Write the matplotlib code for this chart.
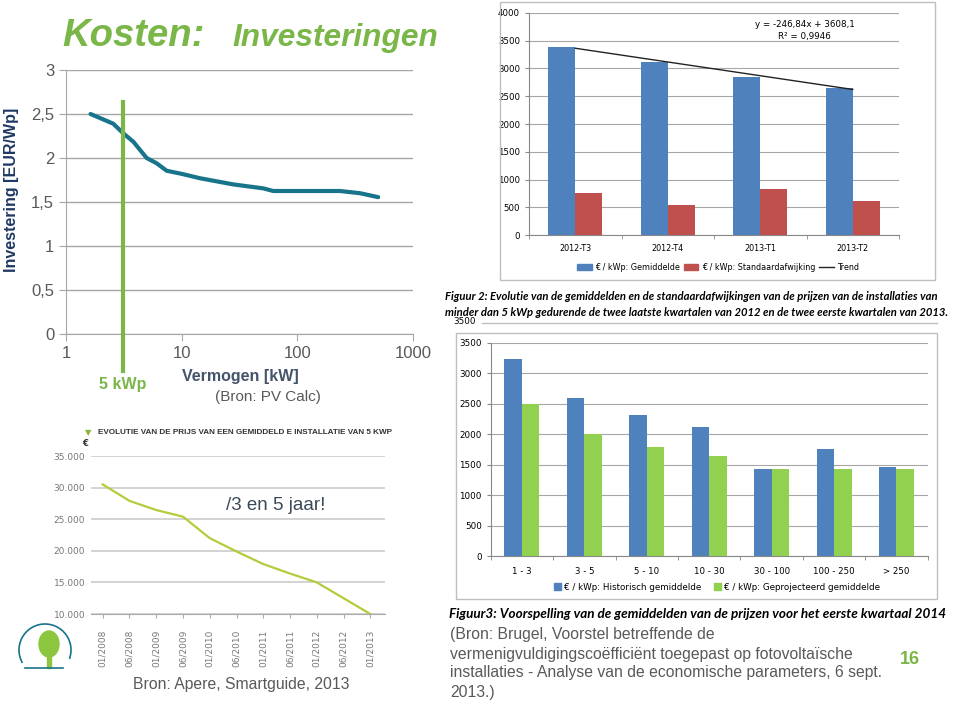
import numpy as np
import matplotlib
matplotlib.use("Agg")
import matplotlib.pyplot as plt
import matplotlib.transforms as mtransforms
from matplotlib.patches import Rectangle, Arc, Ellipse

W, H = 960, 703

# --- chart 1: investering vs vermogen (PV Calc) ---
pv_kw = [1.63, 2.56, 3.13, 3.82, 4.98, 6.08, 7.42, 10, 14.4, 27.9, 50.7, 61.9, 233, 348, 500]
pv_eur_wp = [2.50, 2.39, 2.28, 2.185, 2.00, 1.94, 1.855, 1.82, 1.77, 1.70, 1.655, 1.625, 1.625, 1.60, 1.555]
marker_kw = 3.1
y1_ticks = [0, 0.5, 1, 1.5, 2, 2.5, 3]
y1_labels = ["0", "0,5", "1", "1,5", "2", "2,5", "3"]

# --- chart 2: kwartalen ---
quarters = ["2012-T3", "2012-T4", "2013-T1", "2013-T2"]
q_mean = [3385, 3110, 2840, 2640]
q_std = [760, 545, 830, 620]
trend_slope, trend_icpt = -246.84, 3608.1

# --- chart 3: vermogensklassen ---
classes = ["1 - 3", "3 - 5", "5 - 10", "10 - 30", "30 - 100", "100 - 250", "> 250"]
hist_mean = [3240, 2600, 2310, 2120, 1430, 1750, 1460]
proj_mean = [2500, 2000, 1790, 1640, 1430, 1430, 1430]

# --- chart 4: prijs 5 kWp installatie ---
months = ["01/2008", "06/2008", "01/2009", "06/2009", "01/2010", "06/2010",
          "01/2011", "06/2011", "01/2012", "06/2012", "01/2013"]
price_5kwp = [30500, 27900, 26450, 25400, 22000, 19900, 17900, 16400, 15000, 12500, 10000]

BLUE = "#4f81bd"
RED = "#c0504d"
LGREEN = "#92d050"
GREEN = "#7ab648"
TEAL = "#17748a"
GRAYTXT = "#595959"

fig = plt.figure(figsize=(9.6, 7.03), dpi=100)
fig.patch.set_facecolor("white")


def px_axes(l, t, r, b):
    return fig.add_axes([l / W, 1 - b / H, (r - l) / W, (b - t) / H])


def ftext(x, y, s, **kw):
    return fig.text(x / W, 1 - y / H, s, **kw)


# ---------------- title ----------------
ftext(62, 36, "Kosten:", fontsize=27.5, fontweight="bold", fontstyle="italic",
      color=GREEN, va="center", family="Liberation Sans")
ftext(232, 38, "Investeringen", fontsize=22.8, fontweight="bold", fontstyle="italic",
      color=GREEN, va="center", family="Liberation Sans")

# ---------------- chart 1 ----------------
ax1 = px_axes(66, 70, 413, 334)
ax1.set_xscale("log")
ax1.set_xlim(1, 1000)
ax1.set_ylim(0, 3)
ax1.plot(pv_kw, pv_eur_wp, color=TEAL, lw=3, solid_capstyle="round", zorder=3)
ax1.set_yticks(y1_ticks)
ax1.set_yticklabels(y1_labels)
ax1.set_xticks([1, 10, 100, 1000])
ax1.set_xticklabels(["1", "10", "100", "1000"])
ax1.minorticks_off()
ax1.grid(axis="y", color="#a6a6a6", lw=1)
ax1.set_axisbelow(True)
for s in ["top", "right"]:
    ax1.spines[s].set_visible(False)
for s in ["left", "bottom"]:
    ax1.spines[s].set_color("#a6a6a6")
ax1.tick_params(colors="#a6a6a6", labelcolor=GRAYTXT, labelsize=12, length=5)
for lab in ax1.get_xticklabels() + ax1.get_yticklabels():
    lab.set_family("Liberation Sans")
trans = mtransforms.blended_transform_factory(ax1.transData, ax1.transAxes)
ax1.plot([marker_kw, marker_kw], [-0.14, 0.88], transform=trans, color=GREEN,
         lw=3, clip_on=False, zorder=4)
ftext(12, 190, "Investering [EUR/Wp]", rotation=90, fontsize=11.5, fontweight="bold",
      color="#1f3864", va="center", ha="center", family="Liberation Sans")
ftext(182, 377, "Vermogen [kW]", fontsize=11.5, fontweight="bold", color="#44546a",
      va="center", family="Liberation Sans")
ftext(215, 397, "(Bron: PV Calc)", fontsize=11, color=GRAYTXT, va="center",
      family="Liberation Sans")
ftext(123, 385, "5 kWp", fontsize=11.5, fontweight="bold", color=GREEN,
      va="center", ha="center", family="Liberation Sans")

# ---------------- chart 2 ----------------
fig.patches.append(Rectangle((500 / W, 1 - 280 / H), 435 / W, 278 / H,
                             transform=fig.transFigure, fill=False,
                             edgecolor="#bfbfbf", lw=1))
ax2 = px_axes(529, 12.7, 899, 235.3)
x2 = np.arange(len(quarters))
bw = 0.29
ax2.bar(x2 - bw / 2, q_mean, bw, color=BLUE, zorder=3)
ax2.bar(x2 + bw / 2, q_std, bw, color=RED, zorder=3)
ax2.plot(x2, trend_slope * (x2 + 1) + trend_icpt, color="#222222", lw=1, zorder=4)
ax2.set_xlim(-0.5, len(quarters) - 0.5)
ax2.set_ylim(0, 4000)
ax2.set_yticks(range(0, 4001, 500))
ax2.set_xticks(x2)
ax2.set_xticklabels(quarters)
ax2.set_xticks(np.arange(-0.5, len(quarters), 1), minor=True)
ax2.tick_params(axis="x", which="major", length=0, labelsize=5.8, pad=6)
ax2.tick_params(axis="x", which="minor", length=3, color="#888888")
ax2.tick_params(axis="y", labelsize=6.2, length=3, color="#888888")
ax2.grid(axis="y", color="#a6a6a6", lw=0.8)
ax2.set_axisbelow(True)
for s in ["top", "right"]:
    ax2.spines[s].set_visible(False)
for s in ["left", "bottom"]:
    ax2.spines[s].set_color("#888888")
ax2.text(0.745, 0.965, "y = -246,84x + 3608,1\nR² = 0,9946", transform=ax2.transAxes,
         ha="center", va="top", fontsize=6.3, linespacing=1.4)
h2 = [Rectangle((0, 0), 1, 1, color=BLUE), Rectangle((0, 0), 1, 1, color=RED),
      plt.Line2D([0], [0], color="#222222", lw=1)]
fig.legend(h2, ["€ / kWp: Gemiddelde", "€ / kWp: Standaardafwijking", "Trend"],
           loc="center", bbox_to_anchor=(718 / W, 1 - 267 / H), ncol=3, frameon=False,
           fontsize=5.8, handlelength=1.8, handleheight=0.8, columnspacing=0.5,
           handletextpad=0.4)
cap_kw = dict(fontweight="bold", fontstyle="italic", va="center", family="Lato")
ftext(445, 296, "Figuur 2: Evolutie van de gemiddelden en de standaardafwijkingen van de prijzen van de installaties van",
      fontsize=8.15, **cap_kw)
ftext(445, 312, "minder dan 5 kWp gedurende de twee laatste kwartalen van 2012 en de twee eerste kwartalen van 2013.",
      fontsize=8.15, **cap_kw)

# ---------------- chart 3 ----------------
fig.lines.append(plt.Line2D([482 / W, 937 / W], [1 - 323 / H, 1 - 323 / H],
                            transform=fig.transFigure, color="#bfbfbf", lw=1))
fig.patches.append(Rectangle((456 / W, 1 - 599 / H), 481 / W, 266 / H,
                             transform=fig.transFigure, fill=False,
                             edgecolor="#bfbfbf", lw=1))
ftext(453, 322, "3500", fontsize=6.3, va="center")
ax3 = px_axes(490.7, 342.7, 927.7, 556)
x3 = np.arange(len(classes))
bw3 = 0.28
ax3.bar(x3 - bw3 / 2, hist_mean, bw3, color=BLUE, zorder=3)
ax3.bar(x3 + bw3 / 2, proj_mean, bw3, color=LGREEN, zorder=3)
ax3.set_xlim(-0.5, len(classes) - 0.5)
ax3.set_ylim(0, 3500)
ax3.set_yticks(range(0, 3501, 500))
ax3.set_xticks(x3)
ax3.set_xticklabels(classes)
ax3.set_xticks(np.arange(-0.5, len(classes), 1), minor=True)
ax3.tick_params(axis="x", which="major", length=0, labelsize=6.2, pad=8)
ax3.tick_params(axis="x", which="minor", length=3, color="#888888")
ax3.tick_params(axis="y", labelsize=6.3, length=3, color="#888888")
ax3.grid(axis="y", color="#a6a6a6", lw=0.8)
ax3.set_axisbelow(True)
for s in ["top", "right"]:
    ax3.spines[s].set_visible(False)
for s in ["left", "bottom"]:
    ax3.spines[s].set_color("#888888")
h3 = [Rectangle((0, 0), 1, 1, color=BLUE), Rectangle((0, 0), 1, 1, color=LGREEN)]
fig.legend(h3, ["€ / kWp: Historisch gemiddelde", "€ / kWp: Geprojecteerd gemiddelde"],
           loc="center", bbox_to_anchor=(717 / W, 1 - 587 / H), ncol=2, frameon=False,
           fontsize=6.3, handlelength=0.8, handleheight=0.8, columnspacing=1.5,
           handletextpad=0.3)
ftext(449, 614, "Figuur3: Voorspelling van de gemiddelden van de prijzen voor het eerste kwartaal 2014",
      fontsize=9.7, **cap_kw)
bron_kw = dict(fontsize=11.3, color=GRAYTXT, va="center", family="Liberation Sans")
ftext(450, 634, "(Bron: Brugel, Voorstel betreffende de", **bron_kw)
ftext(450, 654, "vermenigvuldigingscoëfficiënt toegepast op fotovoltaïsche", **bron_kw)
ftext(450, 673, "installaties - Analyse van de economische parameters, 6 sept.", **bron_kw)
ftext(450, 692, "2013.)", **bron_kw)
ftext(910, 660, "16", fontsize=13, fontweight="bold", color=GREEN, ha="center",
      va="center", family="Liberation Sans")

# ---------------- chart 4 ----------------
ax4 = px_axes(90.7, 456, 385, 614)
x4 = np.arange(len(months))
ax4.plot(x4, price_5kwp, color="#b3cc3b", lw=1.6, zorder=3)
ax4.set_xlim(-0.45, len(months) - 0.45)
ax4.set_ylim(10000, 35000)
yt4 = list(range(10000, 35001, 5000))
ax4.set_yticks(yt4)
ax4.set_yticklabels([f"{v:,}".replace(",", ".") for v in yt4])
ax4.set_xticks(x4)
ax4.set_xticklabels(months, rotation=90)
ax4.grid(axis="y", color="#c8c8c8", lw=1.1)
ax4.set_axisbelow(True)
for s in ["top", "right", "left"]:
    ax4.spines[s].set_visible(False)
ax4.spines["bottom"].set_color("#aaaaaa")
ax4.tick_params(axis="y", length=0, labelsize=6.5, labelcolor="#777777", pad=4)
ax4.tick_params(axis="x", length=3, color="#aaaaaa", labelsize=6.5,
                labelcolor="#777777", pad=8)
ftext(88, 433, "▼", fontsize=6, color="#8db33a", ha="center", va="center")
ftext(98, 433, "EVOLUTIE VAN DE PRIJS VAN EEN GEMIDDELD E INSTALLATIE VAN 5 KWP",
      fontsize=5.9, fontweight="bold", color="#333333", va="center",
      family="Liberation Sans")
ftext(82, 444, "€", fontsize=6, fontweight="bold", color="#333333", va="center")
ftext(226, 505, "/3 en 5 jaar!", fontsize=13.5, color="#3b4a5a", va="center",
      family="Liberation Sans")
ftext(133, 685, "Bron: Apere, Smartguide, 2013", fontsize=11.3, color=GRAYTXT,
      va="center", family="Liberation Sans")

# logo (simple sketch)
logo = fig.add_axes([15 / W, 1 - 680 / H, 60 / W, 60 / H])
logo.set_xlim(0, 60)
logo.set_ylim(0, 60)
logo.axis("off")
logo.add_patch(Arc((30, 30), 52, 52, theta1=-20, theta2=210, color=TEAL, lw=1.2))
logo.add_patch(Ellipse((34, 36), 20, 26, color="#8cc63f"))
logo.add_patch(Rectangle((32, 12), 4, 16, color="#8cc63f"))
logo.plot([10, 48], [12, 12], color=TEAL, lw=1.2)

fig.savefig("out.png", dpi=100, facecolor="white")
